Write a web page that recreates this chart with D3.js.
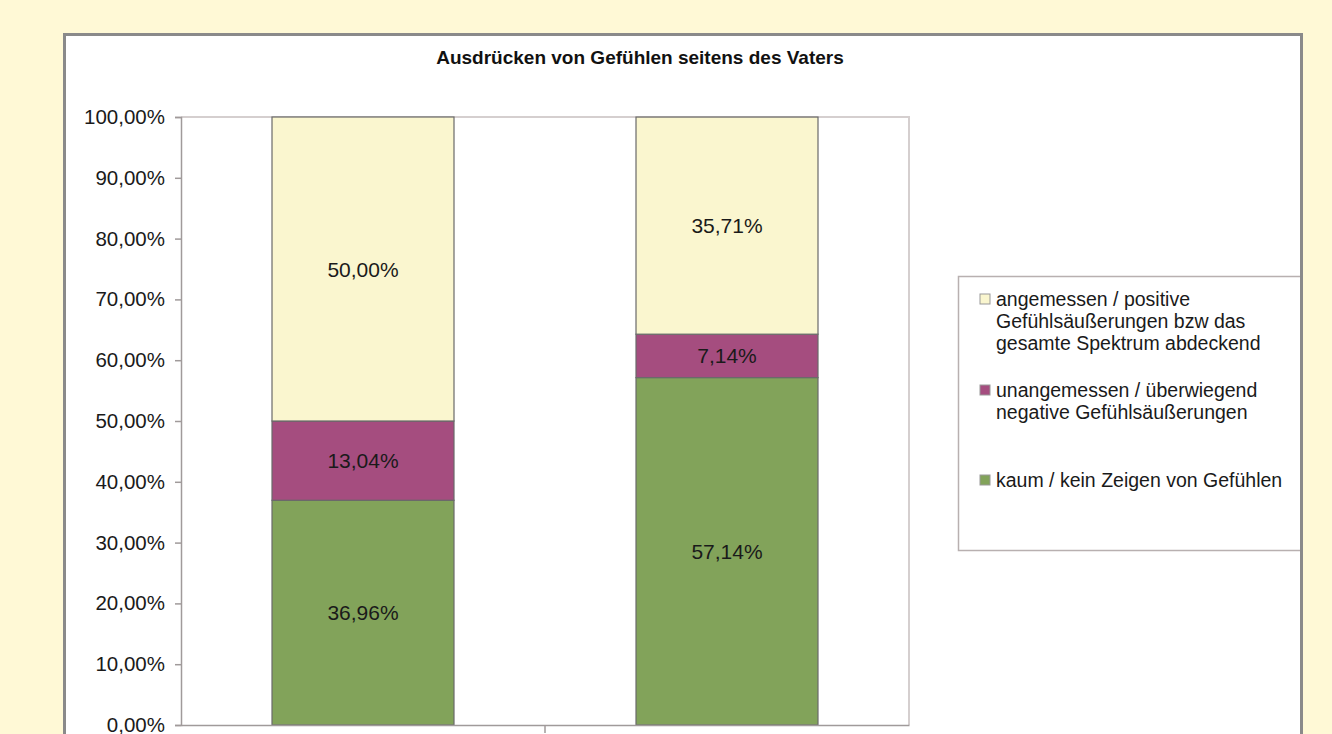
<!DOCTYPE html>
<html>
<head>
<meta charset="utf-8">
<script src="https://cdn.jsdelivr.net/npm/d3@7"></script>
<style>
  html, body { margin: 0; padding: 0; background: #fff9d6; }
  svg { display: block; font-family: Arial, "Liberation Sans", sans-serif; }
</style>
</head>
<body>
<svg id="svg" width="1332" height="734"></svg>
<script>
var title = "Ausdrücken von Gefühlen seitens des Vaters";
var categories = ["A", "B"];
var green = [36.96, 57.14];
var purple = [13.04, 7.14];
var cream = [50.00, 35.71];
var valueLabels = [["36,96%", "57,14%"], ["13,04%", "7,14%"], ["50,00%", "35,71%"]];
var yTicks = [0, 10, 20, 30, 40, 50, 60, 70, 80, 90, 100];
var legendLines = [
  ["angemessen / positive", "Gefühlsäußerungen bzw das", "gesamte Spektrum abdeckend"],
  ["unangemessen  / überwiegend", "negative Gefühlsäußerungen"],
  ["kaum / kein Zeigen von Gefühlen"]
];
var colors = ["#82a35a", "#a54d7f", "#faf6cf"];

var svg = d3.select("#svg");

// outer chart frame
svg.append("rect")
  .attr("x", 64.5).attr("y", 34.5)
  .attr("width", 1237).attr("height", 760)
  .attr("fill", "#ffffff")
  .attr("stroke", "#8a8a8a").attr("stroke-width", 3);

svg.append("text")
  .attr("x", 640).attr("y", 64)
  .attr("text-anchor", "middle")
  .style("font-weight", "bold")
  .style("font-size", "19px")
  .attr("fill", "#111")
  .text(title);

var x = d3.scaleBand().domain(categories).range([181, 909]).paddingInner(0).paddingOuter(0);
var y = d3.scaleLinear().domain([0, 100]).range([725, 117]);

// plot area border
svg.append("path")
  .attr("d", `M${x.range()[0]},${y(100)}H${x.range()[1]}V${y(0)}`)
  .attr("fill", "none").attr("stroke", "#d5cfcf").attr("stroke-width", 2);

var rows = categories.map((c, i) => ({ cat: c, g: green[i], p: purple[i], c: cream[i] }));
var stack = d3.stack().keys(["g", "p", "c"])(rows);

var bw = x.bandwidth() * 0.5;
var layers = svg.selectAll(".layer").data(stack).enter().append("g")
  .attr("fill", (d, i) => colors[i]);

layers.selectAll("rect").data(d => d).enter().append("rect")
  .attr("x", d => x(d.data.cat) + (x.bandwidth() - bw) / 2)
  .attr("y", d => y(Math.min(d[1], 100)))
  .attr("width", bw)
  .attr("height", d => y(d[0]) - y(Math.min(d[1], 100)))
  .attr("stroke", "#6a6a6a").attr("stroke-width", 1.2);

layers.selectAll("text").data((d, i) => d.map((v, j) => ({ v: v, label: valueLabels[i][j] })))
  .enter().append("text")
  .attr("x", d => x(d.v.data.cat) + x.bandwidth() / 2)
  .attr("y", d => (y(d.v[0]) + y(Math.min(d.v[1], 100))) / 2 + 7.5)
  .attr("text-anchor", "middle")
  .attr("fill", "#1a1a1a")
  .style("font-size", "21px")
  .text(d => d.label);

// y axis
var yAxis = svg.append("g")
  .attr("transform", `translate(${x.range()[0]},0)`)
  .call(d3.axisLeft(y).tickValues(yTicks).tickSize(6).tickPadding(10)
    .tickFormat(d => d3.format(".2f")(d).replace(".", ",") + "%"));
yAxis.select(".domain").attr("stroke", "#a09a9a").attr("stroke-width", 1.5);
yAxis.selectAll(".tick line").attr("stroke", "#a09a9a").attr("stroke-width", 1.5);
yAxis.selectAll(".tick text").attr("fill", "#1a1a1a").style("font-size", "20.5px")
  .style("font-family", "Arial, 'Liberation Sans', sans-serif");

// x axis
var xAxis = svg.append("g")
  .attr("transform", `translate(0,${y(0)})`)
  .call(d3.axisBottom(x).tickSize(0).tickFormat(""));
xAxis.select(".domain").attr("stroke", "#a09a9a").attr("stroke-width", 1.5);
svg.append("line")
  .attr("x1", x("B")).attr("x2", x("B"))
  .attr("y1", y(0)).attr("y2", y(0) + 8)
  .attr("stroke", "#a09a9a").attr("stroke-width", 1.5);

// legend
var lg = svg.append("g");
lg.append("rect")
  .attr("x", 958.5).attr("y", 276.5)
  .attr("width", 400).attr("height", 274)
  .attr("fill", "#ffffff").attr("stroke", "#b8b0b0").attr("stroke-width", 1.5);

var legendTops = [299, 390, 480];
var legendColors = [colors[2], colors[1], colors[0]];
legendLines.forEach((lines, i) => {
  lg.append("rect")
    .attr("x", 980).attr("y", legendTops[i] - 5)
    .attr("width", 10).attr("height", 10)
    .attr("fill", legendColors[i]).attr("stroke", "#999").attr("stroke-width", 1);
  lg.append("text")
    .attr("x", 996).attr("y", legendTops[i] + 7)
    .attr("fill", "#1a1a1a")
    .style("font-size", "19.5px")
    .selectAll("tspan").data(lines).enter().append("tspan")
    .attr("x", 996).attr("dy", (d, j) => j === 0 ? 0 : 22)
    .text(d => d);
});

// redraw the right frame edge over the legend
svg.append("rect")
  .attr("x", 1302).attr("y", 33).attr("width", 30).attr("height", 701)
  .attr("fill", "#fff9d6");
svg.append("line")
  .attr("x1", 1301.5).attr("x2", 1301.5).attr("y1", 33).attr("y2", 734)
  .attr("stroke", "#8a8a8a").attr("stroke-width", 3);
</script>
</body>
</html>
